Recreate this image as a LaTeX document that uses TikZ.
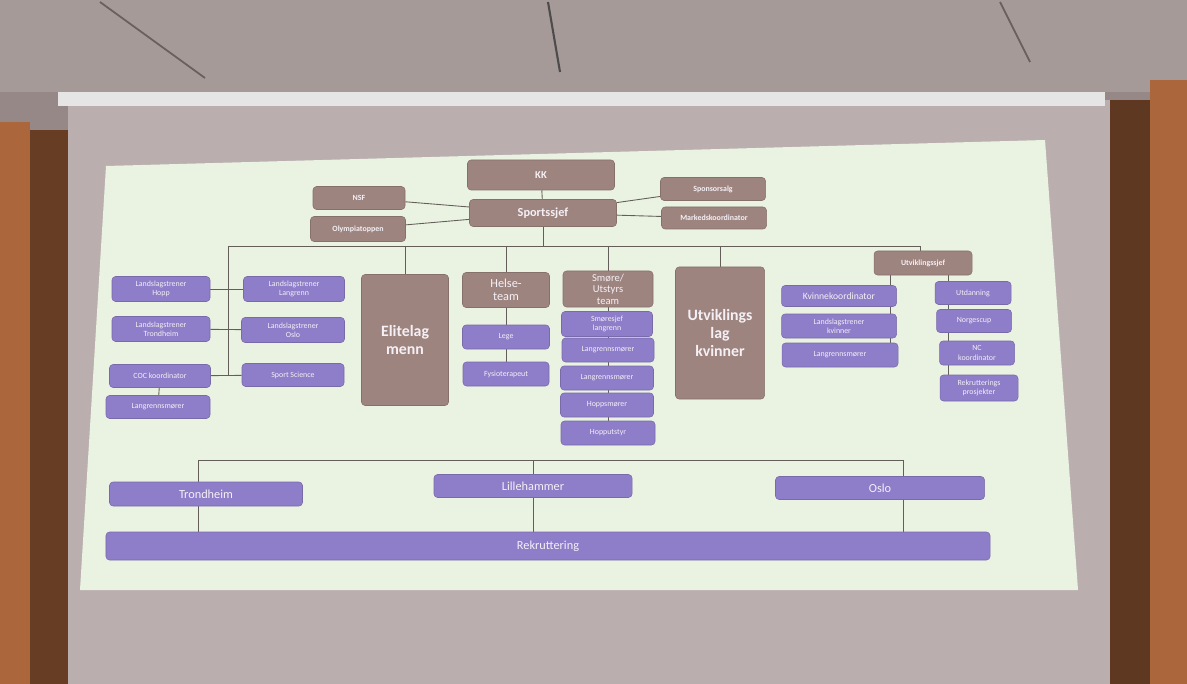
\documentclass[tikz,border=0pt]{standalone}
\usepackage{fontspec}
\setmainfont{Carlito}
\usepackage{tikz}
\definecolor{boxbrown}{RGB}{158,132,127}
\definecolor{boxpurple}{RGB}{142,125,200}
\definecolor{boxtext}{RGB}{244,240,246}
\definecolor{slidebg}{RGB}{234,243,226}
\definecolor{screencol}{RGB}{186,174,174}
\definecolor{wallcol}{RGB}{150,136,134}
\definecolor{woodcol}{RGB}{172,102,60}
\definecolor{edgecol}{RGB}{100,94,90}
\tikzstyle{chief}=[fill=boxbrown, draw=boxbrown!85!black, line width=0.3pt, shape=rectangle, rounded corners=2pt, text=boxtext, font=\fontsize{4.5}{5.2}\selectfont\bfseries, align=center, inner sep=0pt]
\tikzstyle{staff}=[fill=boxpurple, draw=boxpurple!85!black, line width=0.3pt, shape=rectangle, rounded corners=2pt, text=boxtext, font=\fontsize{4.5}{5.2}\selectfont, align=center, inner sep=0pt]
\tikzstyle{team}=[style=chief, font=\fontsize{9}{10}\selectfont\bfseries]
\tikzstyle{place}=[style=staff, font=\fontsize{7}{8}\selectfont]
\tikzstyle{ed}=[-, draw=edgecol, line width=0.5pt]
\pgfdeclarelayer{scene}
\pgfdeclarelayer{edges}
\pgfsetlayers{scene,edges,main}

\begin{document}
\begin{tikzpicture}[x=0.2mm, y=-0.2mm]
	\useasboundingbox (0,0) rectangle (1187,684);
	% room, screen and projected slide
	\begin{pgfonlayer}{scene}
		\fill [wallcol] (0,0) rectangle (1187,684);
		\fill [wallcol!85!white] (0,0) rectangle (1187,92);
		\draw [wallcol!70!black, line width=1pt] (100,2) -- (205,78);
		\draw [wallcol!70!black, line width=1pt] (1000,2) -- (1030,62);
		\draw [black!70, line width=1.2pt] (548,2) -- (560,72);
		\fill [woodcol] (0,122) rectangle (30,684);
		\fill [woodcol!60!black] (30,130) rectangle (70,684);
		\fill [woodcol] (1150,80) rectangle (1187,684);
		\fill [woodcol!55!black] (1105,100) rectangle (1150,684);
		\fill [screencol] (68,100) rectangle (1110,684);
		\fill [black!10] (58,92) rectangle (1105,106);
		\fill [slidebg] (106,166) -- (1045,140) -- (1078,590) -- (80,590) -- cycle;
	\end{pgfonlayer}

	% top management
	\node [style=chief, minimum width=29.4mm, minimum height=6mm, font=\fontsize{6}{7}\selectfont\bfseries] (0) at (541,175) {KK};
	\node [style=chief, minimum width=18.4mm, minimum height=4.6mm] (1) at (359,198) {NSF};
	\node [style=chief, minimum width=19mm, minimum height=5mm] (2) at (358,229) {Olympiatoppen};
	\node [style=chief, minimum width=29.4mm, minimum height=5.4mm, font=\fontsize{7}{8}\selectfont\bfseries] (3) at (543,213) {Sportssjef};
	\node [style=chief, minimum width=21mm, minimum height=4.6mm] (4) at (713,189) {Sponsorsalg};
	\node [style=chief, minimum width=21mm, minimum height=4.4mm] (5) at (714,218) {Markedskoordinator};

	% left group
	\node [style=staff, minimum width=19.6mm, minimum height=5mm] (6) at (161,289) {Landslagstrener\\Hopp};
	\node [style=staff, minimum width=20.2mm, minimum height=5mm] (7) at (294,289) {Landslagstrener\\Langrenn};
	\node [style=staff, minimum width=19.6mm, minimum height=5mm] (8) at (161,329) {Landslagstrener\\Trondheim};
	\node [style=staff, minimum width=20.6mm, minimum height=5mm] (9) at (293,330) {Landslagstrener\\Oslo};
	\node [style=staff, minimum width=20.2mm, minimum height=4.6mm] (10) at (160,376) {COC koordinator};
	\node [style=staff, minimum width=20.4mm, minimum height=4.6mm] (11) at (293,375) {Sport Science};
	\node [style=staff, minimum width=20.8mm, minimum height=4.6mm] (12) at (158,407) {Langrennsmører};

	% teams
	\node [style=team, minimum width=17.4mm, minimum height=26.2mm] (13) at (405,340) {Elitelag\\menn};
	\node [style=chief, minimum width=17.4mm, minimum height=7mm, font=\fontsize{7}{7.6}\selectfont] (14) at (506,290) {Helse-\\team};
	\node [style=staff, minimum width=17.4mm, minimum height=4.8mm] (15) at (506,337) {Lege};
	\node [style=staff, minimum width=17.2mm, minimum height=4.8mm] (16) at (506,374) {Fysioterapeut};
	\node [style=chief, minimum width=18mm, minimum height=7.2mm, font=\fontsize{6}{6.6}\selectfont] (17) at (608,289) {Smøre/\\Utstyrs\\team};
	\node [style=staff, minimum width=18.2mm, minimum height=5mm] (18) at (607,324) {Smøresjef\\langrenn};
	\node [style=staff, minimum width=18.4mm, minimum height=4.8mm] (19) at (608,350) {Langrennsmører};
	\node [style=staff, minimum width=18.6mm, minimum height=4.8mm] (20) at (607,378) {Langrennsmører};
	\node [style=staff, minimum width=18.6mm, minimum height=4.8mm] (21) at (607,405) {Hoppsmører};
	\node [style=staff, minimum width=18.8mm, minimum height=4.8mm] (22) at (608,433) {Hopputstyr};
	\node [style=team, minimum width=17.8mm, minimum height=26.4mm] (23) at (720,333) {Utviklings\\lag\\kvinner};

	% development
	\node [style=chief, minimum width=19.6mm, minimum height=4.8mm] (24) at (923,263) {Utviklingssjef};
	\node [style=staff, minimum width=23mm, minimum height=4.2mm, font=\fontsize{5.5}{6}\selectfont] (25) at (839,296) {Kvinnekoordinator};
	\node [style=staff, minimum width=23mm, minimum height=4.8mm] (26) at (839,326) {Landslagstrener\\kvinner};
	\node [style=staff, minimum width=23.2mm, minimum height=4.8mm] (27) at (840,355) {Langrennsmører};
	\node [style=staff, minimum width=15.2mm, minimum height=4.6mm] (28) at (973,293) {Utdanning};
	\node [style=staff, minimum width=15mm, minimum height=4.6mm] (29) at (974,321) {Norgescup};
	\node [style=staff, minimum width=15mm, minimum height=4.8mm] (30) at (977,353) {NC\\koordinator};
	\node [style=staff, minimum width=15.6mm, minimum height=5.2mm] (31) at (979,388) {Rekrutterings\\prosjekter};

	% regions
	\node [style=place, minimum width=38.6mm, minimum height=4.8mm] (32) at (206,494) {Trondheim};
	\node [style=place, minimum width=39.6mm, minimum height=4.6mm] (33) at (533,486) {Lillehammer};
	\node [style=place, minimum width=41.8mm, minimum height=4.6mm] (34) at (880,488) {Oslo};
	\node [style=place, minimum width=176.8mm, minimum height=5.6mm] (35) at (548,546) {Rekruttering};

	\coordinate (36) at (228,246);
	\coordinate (37) at (920,246);
	\coordinate (38) at (228,376);
	\coordinate (39) at (890,270);
	\coordinate (40) at (948,270);
	\coordinate (41) at (198,460);
	\coordinate (42) at (903,460);

	\begin{pgfonlayer}{edges}
		\draw [style=ed] (0) to (3);
		\draw [style=ed] (1) to (3);
		\draw [style=ed] (2) to (3);
		\draw [style=ed] (4) to (3);
		\draw [style=ed] (5) to (3);
		\draw [style=ed] (3) to (3 |- 36);
		\draw [style=ed] (36) to (37);
		\draw [style=ed] (36) to (38);
		\draw [style=ed] (6) to (7);
		\draw [style=ed] (8) to (9);
		\draw [style=ed] (10) to (11);
		\draw [style=ed] (10) to (12);
		\draw [style=ed] (13 |- 36) to (13);
		\draw [style=ed] (14 |- 36) to (14);
		\draw [style=ed] (14) to (15);
		\draw [style=ed] (15) to (16);
		\draw [style=ed] (17 |- 36) to (17);
		\draw [style=ed] (17) to (22);
		\draw [style=ed] (23 |- 36) to (23);
		\draw [style=ed] (37) to (37 |- 24.north);
		\draw [style=ed] (39) to (39 |- 27.north);
		\draw [style=ed] (40) to (40 |- 31.north);
		\draw [style=ed] (41) to (42);
		\draw [style=ed] (41) to (41 |- 35.north);
		\draw [style=ed] (33 |- 41) to (33 |- 35.north);
		\draw [style=ed] (42) to (42 |- 35.north);
	\end{pgfonlayer}
\end{tikzpicture}
\end{document}
